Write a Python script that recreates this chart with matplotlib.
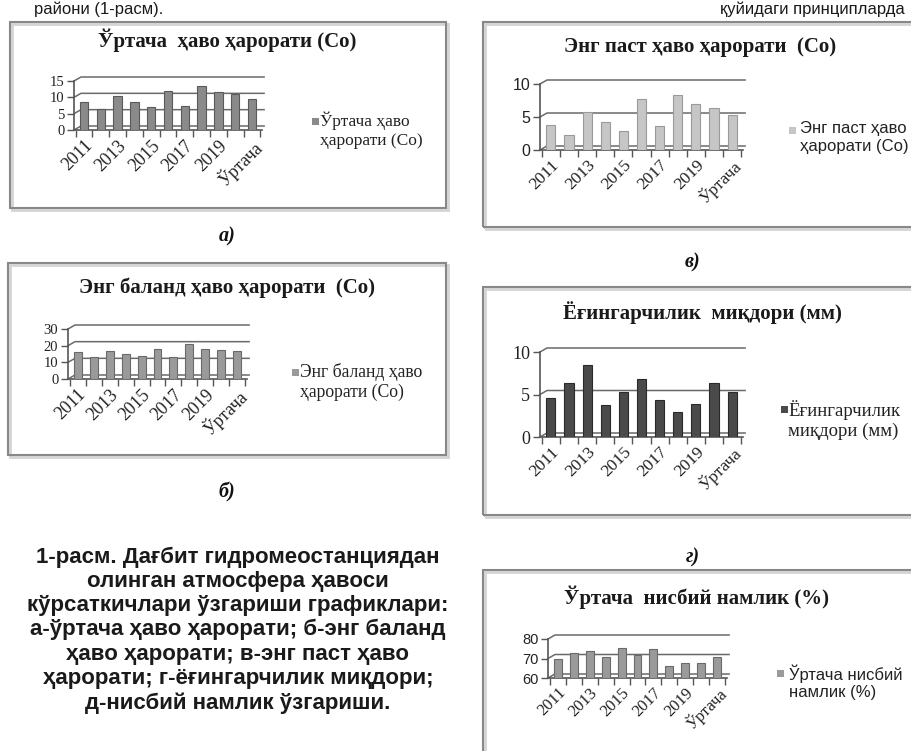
import matplotlib
matplotlib.use("Agg")
import matplotlib.pyplot as plt
from matplotlib.patches import Rectangle
from matplotlib.lines import Line2D

# ---------------- data ----------------
categories = ["2011", "2012", "2013", "2014", "2015", "2016", "2017", "2018", "2019", "2020", "Ўртача"]
avg_temp = [8.5, 6.5, 10.5, 8.5, 7.0, 12.0, 7.5, 13.5, 11.5, 11.0, 9.5]
max_temp = [16, 13, 17, 15, 14, 18, 13.5, 21, 18, 17.5, 16.5]
min_temp = [3.8, 2.2, 5.7, 4.2, 2.9, 7.8, 3.7, 8.3, 7.0, 6.3, 5.3]
precip = [4.6, 6.3, 8.5, 3.8, 5.3, 6.8, 4.4, 3.0, 3.9, 6.3, 5.3]
humidity = [70, 73, 74, 71, 75.5, 72, 75, 66, 67.5, 67.5, 71]

titles = ["Ўртача  ҳаво ҳарорати (Со)", "Энг баланд ҳаво ҳарорати  (Со)",
          "Энг паст ҳаво ҳарорати  (Со)", "Ёғингарчилик  миқдори (мм)",
          "Ўртача  нисбий намлик (%)"]
legends = ["Ўртача ҳаво\nҳарорати (Со)", "Энг баланд ҳаво\nҳарорати (Со)",
           "Энг паст ҳаво\nҳарорати (Со)", "Ёғингарчилик\nмиқдори (мм)",
           "Ўртача нисбий\nнамлик (%)"]
panel_labels = ["а)", "б)", "в)", "г)"]
caption = ("1-расм. Дағбит гидромеостанциядан\nолинган атмосфера ҳавоси\n"
           "кўрсаткичлари ўзгариши графиклари:\nа-ўртача ҳаво ҳарорати; б-энг баланд\n"
           "ҳаво ҳарорати; в-энг паст ҳаво\nҳарорати; г-ёғингарчилик миқдори;\n"
           "д-нисбий намлик ўзгариши.")

W, H = 912, 751
fig = plt.figure(figsize=(W / 100, H / 100), dpi=100)
fig.patch.set_facecolor("white")

SERIF = ["Liberation Serif", "DejaVu Serif"]
SANS = ["Liberation Sans", "DejaVu Sans"]


def fx(x):
    return x / W


def fy(y):
    return 1 - y / H


def arect(x0, y0, x1, y1):
    return [x0 / W, 1 - y1 / H, (x1 - x0) / W, (y1 - y0) / H]


def box(x0, y0, x1, y1):
    fig.add_artist(Rectangle((fx(x0) + 0.002, fy(y1) - 0.003), (x1 - x0) / W, (y1 - y0) / H,
                             transform=fig.transFigure, fill=False, ec="#d4d4d4", lw=2))
    fig.add_artist(Rectangle((fx(x0), fy(y1)), (x1 - x0) / W, (y1 - y0) / H,
                             transform=fig.transFigure, fill=False, ec="#888888", lw=1.5))


DX, DY = 7, 4  # px offset of the back wall (pseudo 3-D)


def panel(values, ylim, yticks, bx, axr, title_xy, title, leg, leg_xy,
          color, edge, yfam, yfs, xfs, legfam, legfs):
    box(*bx)
    fig.text(fx(title_xy[0]), fy(title_xy[1]), title, ha="center", va="center",
             family=SERIF, fontweight="bold", fontsize=15, color="#1a1a1a")
    ax = fig.add_axes(arect(*axr))
    wpx = axr[2] - axr[0]
    hpx = axr[3] - axr[1]
    x = list(range(len(values)))
    ax.bar(x, [v - ylim[0] for v in values], bottom=ylim[0], width=0.5,
           color=color, edgecolor=edge, linewidth=0.8, zorder=3)
    ax.set_xlim(-0.6, len(values) - 0.4)
    ax.set_ylim(*ylim)
    ax.set_yticks(yticks)
    ax.set_yticklabels([str(t) for t in yticks], family=yfam, fontsize=yfs, color="#222222")
    ax.set_xticks(x[::2])
    ax.set_xticklabels(categories[::2], rotation=45, ha="right", rotation_mode="anchor",
                       family=SERIF, fontsize=xfs, color="#222222")
    ax.set_xticks([i - 0.5 for i in range(len(values) + 1)], minor=True)
    ax.tick_params(axis="x", which="major", length=0, pad=5)
    ax.tick_params(axis="x", which="minor", length=5, color="#555555", width=1)
    ax.tick_params(axis="y", length=5, color="#555555", width=1, pad=2)
    for s in ["top", "right"]:
        ax.spines[s].set_visible(False)
    for s in ["left", "bottom"]:
        ax.spines[s].set_color("#555555")
        ax.spines[s].set_linewidth(1.2)
    ax.patch.set_alpha(0)
    # back-wall gridlines with a short perspective diagonal
    tr = ax.get_yaxis_transform()
    dx = DX / wpx
    dy = DY / hpx * (ylim[1] - ylim[0])
    for t in yticks:
        ax.add_line(Line2D([0, dx, 1 + dx * 0.3], [t, t + dy, t + dy], transform=tr,
                           color="#6a6a6a", lw=1.1, zorder=1, clip_on=False))
    # legend marker and text
    mx, my, tx = leg_xy
    fig.add_artist(Rectangle((fx(mx), fy(my) - 3.5 / H), 7 / W, 7 / H,
                             transform=fig.transFigure, fc=color, ec="none"))
    fig.text(fx(tx), fy(my - legfs * 0.72), leg, ha="left", va="top", family=legfam,
             fontsize=legfs, color="#222222", linespacing=1.22)
    return ax


# a) average temperature
panel(avg_temp, (0, 15), [0, 5, 10, 15], (10, 22, 446, 208), (74, 81, 262, 130),
      (227, 40), titles[0], legends[0], (312, 121, 320),
      "#8a8a8a", "#5a5a5a", SERIF, 10.5, 13, SERIF, 12.5)
# б) max temperature
panel(max_temp, (0, 30), [0, 10, 20, 30], (8, 263, 446, 455), (68, 329, 247, 379),
      (227, 288), titles[1], legends[1], (292, 372, 300),
      "#9a9a9a", "#6a6a6a", SERIF, 10.5, 13, SERIF, 12.7)
# в) min temperature
panel(min_temp, (0, 10), [0, 5, 10], (483, 22, 916, 227), (540, 84, 743, 150),
      (700, 47), titles[2], legends[2], (789, 130, 800),
      "#c6c6c6", "#9a9a9a", SANS, 11.5, 12.5, SANS, 12)
# г) precipitation
panel(precip, (0, 10), [0, 5, 10], (483, 287, 916, 515), (540, 352, 743, 437),
      (702, 313), titles[3], legends[3], (781, 410, 788),
      "#4a4a4a", "#2a2a2a", SERIF, 13, 12.5, SERIF, 13.5)
# д) humidity
panel(humidity, (60, 80), [60, 70, 80], (483, 570, 916, 760), (548, 639, 727, 678),
      (697, 597), titles[4], legends[4], (777, 673, 789),
      "#9a9a9a", "#6a6a6a", SANS, 10.5, 12, SANS, 12)

# panel labels
for lab, (x, y) in zip(panel_labels, [(227, 236), (227, 492), (693, 262), (693, 557)]):
    fig.text(fx(x), fy(y), lab, ha="center", va="center", family=SERIF,
             fontweight="bold", fontstyle="italic", fontsize=14.5, color="#111111")

# caption
fig.text(fx(238), fy(630), caption, ha="center", va="center", family=SANS,
         fontweight="bold", fontsize=16, linespacing=1.2, color="#1a1a1a")

# running text at the top of the page
fig.text(fx(163), fy(14), "райони (1-расм).", ha="right", va="baseline",
         family=SANS, fontsize=12, color="#1a1a1a")
fig.text(fx(905), fy(14), "қуйидаги принципларда", ha="right", va="baseline",
         family=SANS, fontsize=12, color="#1a1a1a")

fig.savefig("out.png", dpi=100, facecolor="white")
